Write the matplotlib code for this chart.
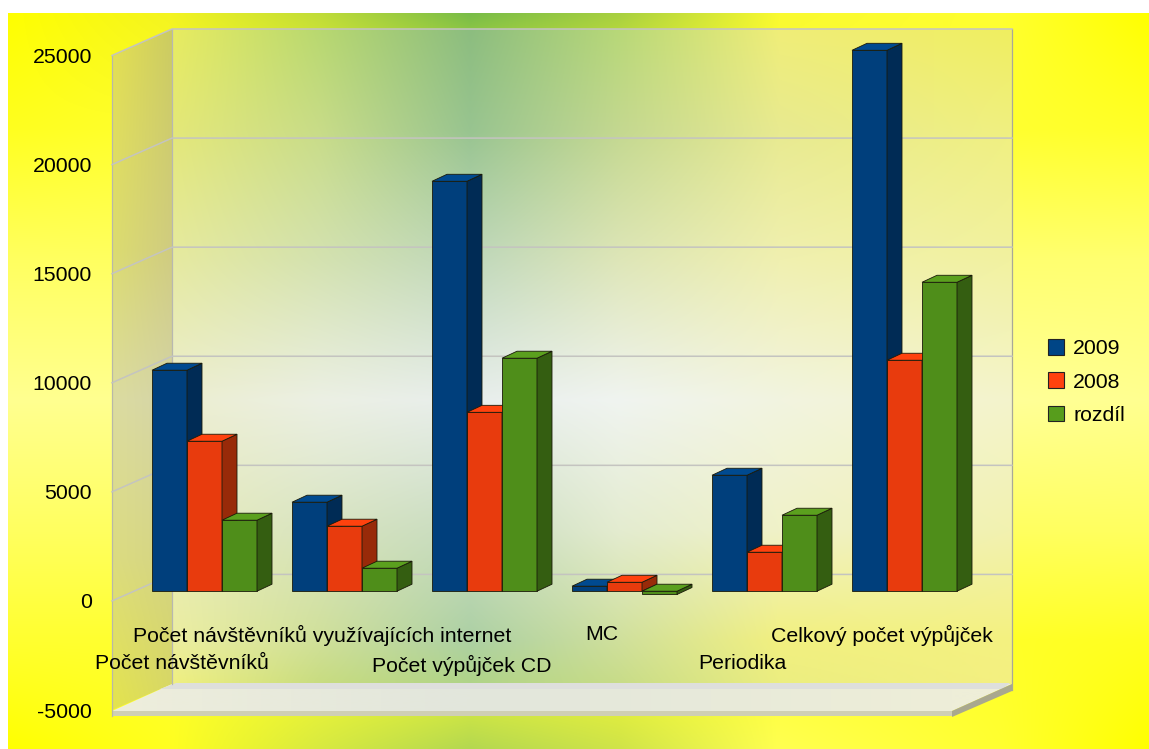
#3D style clustered bars, drawn by hand on a 2D axes
import numpy as np
import matplotlib
matplotlib.use('Agg')
import matplotlib.pyplot as plt
from matplotlib.colors import to_rgb
from matplotlib.patches import Patch, Polygon

plt.rcParams['font.family'] = ['Liberation Sans', 'DejaVu Sans']

categories = ['Počet návštěvníků', 'Počet návštěvníků využívajících internet',
              'Počet výpůjček CD', 'MC', 'Periodika', 'Celkový počet výpůjček']
series_names = ['2009', '2008', 'rozdíl']
v2009 = [10130, 4080, 18790, 230, 5316, 24794]
v2008 = [6875, 2980, 8200, 410, 1787, 10587]
rozdil = [3255, 1055, 10680, -150, 3483, 14161]
yticks = [-5000, 0, 5000, 10000, 15000, 20000, 25000]

front = ['#003f7c', '#e83b0d', '#4f8e1a']
top = ['#004a90', '#ff420e', '#5ba01e']
side = ['#002b55', '#982a09', '#345e11']
legend_cols = ['#004586', '#ff420e', '#579d1c']

W, H = 1149, 749
fig = plt.figure(figsize=(W/100, H/100), dpi=100, facecolor='white')

bg = fig.add_axes([0, 0, 1, 1])
bg.axis('off')

#smooth fill from a coarse table of colours
def grad(xs, ys, rows, clip=None):
	x1, y1 = min(xs), max(ys)
	px = np.arange(xs[0], xs[-1] + 1)
	py = np.arange(ys[0], ys[-1] + 1)
	tab = np.array([[to_rgb('#' + c) for c in r] for r in rows])
	tmp = np.zeros((len(ys), len(px), 3))
	out = np.zeros((len(py), len(px), 3))
	for c in range(3):
		for i in range(len(ys)):
			tmp[i, :, c] = np.interp(px, xs, tab[i, :, c])
		for k in range(len(px)):
			out[:, k, c] = np.interp(py, ys, tmp[:, k, c])
	im = bg.imshow(out, extent=(xs[0], xs[-1], ys[-1], ys[0]), aspect='auto', interpolation='bilinear')
	if clip is not None:
		im.set_clip_path(Polygon(clip, transform=bg.transData))

#page background
grad([8, 170, 320, 470, 620, 780, 1000, 1149], [13, 130, 260, 400, 530, 640, 749],
     [['ffff00', 'f4f420', 'c0dc38', '78bc48', 'a8d040', 'fafa30', 'ffff30', 'ffff00'],
      ['ffff20', 'ffff30', 'ffff30', 'ffff30', 'ffff30', 'ffff30', 'ffff30', 'ffff28'],
      ['ffff60', 'ffff60', 'ffff60', 'ffff60', 'ffff60', 'ffff60', 'ffff70', 'ffff70'],
      ['ffff90', 'ffff90', 'ffff90', 'ffff90', 'ffff90', 'ffff90', 'ffff98', 'ffff90'],
      ['ffff60', 'ffff60', 'ffff60', 'ffff60', 'ffff60', 'ffff60', 'ffff60', 'ffff60'],
      ['ffff30', 'ffff30', 'ffff30', 'ffff30', 'ffff30', 'ffff30', 'ffff28', 'ffff20'],
      ['ffff00', 'ffff20', 'd8ea40', 'b4d850', 'd0e448', 'ffff50', 'ffff30', 'ffff00']])
#back wall
grad([172, 320, 470, 620, 780, 1012], [29, 130, 260, 400, 530, 640, 684],
     [['e8ec60', 'b8d870', '8cbd7f', 'b8d878', 'f0ee78', 'f0ee60'],
      ['e4e878', 'c8dc88', '98c490', 'c4d890', 'e8ea90', 'f0f080'],
      ['e6eaa0', 'd4e2b0', 'c0d8bc', 'dee6b8', 'f0f0b0', 'f2f2a0'],
      ['eceed0', 'ecf0e4', 'e8eeec', 'f0f4f0', 'f2f4e0', 'f4f4cc'],
      ['e8ecbc', 'd8e4c0', 'c8dcc0', 'e4ecd0', 'f0f2c8', 'f2f2b0'],
      ['eceea0', 'd0e09a', 'acd0a4', 'd0e09c', 'f2f080', 'f4f280'],
      ['f0f080', 'c8dc80', 'b0d488', 'c8dc88', 'ecee80', 'f4f080']])
#left wall
grad([112, 172], [29, 250, 400, 560, 710],
     [['e4e050', 'cccc60'], ['dcdc70', 'd0cc80'], ['dcdca0', 'd4d4a8'], ['dcdc80', 'd4d484'], ['e4e44c', 'd8d860']],
     clip=[(112, 56), (172, 29), (172, 684), (112, 710)])
#floor plate
grad([112, 470, 952, 1012], [684, 716],
     [['eeeedc', 'e2e6dc', 'eeeed8', 'eeeed8'], ['eeeedc', 'e2e6dc', 'eeeed8', 'eeeed8']],
     clip=[(112, 711), (172, 684), (1012, 684), (952, 711)])
bg.fill([176, 1010, 1002, 160], [683, 683, 689, 689], fc='#dedfdc', ec='none')
bg.fill([112, 952, 952, 112], [711, 711, 716, 716], fc='#cfcfb4', ec='none')
bg.fill([952, 1012, 1012, 952], [711, 684, 691, 717], fc='#a9a88e', ec='none')
bg.plot([172, 172], [29, 684], color='#b8b8b0', lw=0.9)
bg.plot([1012, 1012], [29, 690], color='#a8a898', lw=0.9)
bg.plot([112, 112], [56, 716], color='#b8b8a8', lw=0.9)
bg.set_xlim(0, W)
bg.set_ylim(H, 0)

#main axes is the front plane of the box
ax = fig.add_axes([112/W, 1 - 710/H, 840/W, 654.5/H])
ax.patch.set_alpha(0)
ax.set_xlim(0, 6)
ax.set_ylim(-5000, 25000)
for s in ax.spines.values():
	s.set_visible(False)

#depth offsets in data units
xpx = 6/840.0
ypx = 30000/654.5
wall_dx, wall_dy = 60*xpx, 26.5*ypx
bar_dx, bar_dy = 40*xpx, 9.7*ypx
depth_dx, depth_dy = 15*xpx, 7*ypx

#gridlines
for v in yticks[1:]:
	ax.plot([0, wall_dx, 6 + wall_dx], [v, v + wall_dy, v + wall_dy],
	        color='#c4c4c0', lw=1.1, clip_on=False, zorder=1)

#bars
data = [v2009, v2008, rozdil]
width = 0.25
x = np.arange(6)
edge = '#1a1a0a'
for j in range(3):
	vals = np.array(data[j], dtype=float)
	pos = x + width*(j + 0.5) + bar_dx
	ax.bar(pos, vals, width, bottom=bar_dy, color=front[j], edgecolor=edge, linewidth=0.6,
	       clip_on=False, zorder=3 + j)
	for p, v in zip(pos, vals):
		hi = max(v, 0) + bar_dy
		lo = min(v, 0) + bar_dy
		r = p + width/2
		l = p - width/2
		ax.fill([r, r + depth_dx, r + depth_dx, r], [lo, lo + depth_dy, hi + depth_dy, hi],
		        fc=side[j], ec=edge, lw=0.6, clip_on=False, zorder=3 + j)
		ax.fill([l, r, r + depth_dx, l + depth_dx], [hi, hi, hi + depth_dy, hi + depth_dy],
		        fc=top[j], ec=edge, lw=0.6, clip_on=False, zorder=3 + j)

#ticks
ax.set_yticks(yticks)
ax.set_yticklabels([str(v) for v in yticks])
ax.tick_params(axis='y', length=0, pad=14.5, labelsize=15.3)
ax.set_xticks(x + 0.5)
ax.set_xticklabels(categories)
ax.tick_params(axis='x', length=0, labelsize=15.3)
pads = [-40 if i in (1, 3, 5) else -61 for i in range(6)]
pads = [-40 if i in (0, 2, 4) else -61 for i in range(6)]
for tick, p in zip(ax.xaxis.get_major_ticks(), pads):
	tick.set_pad(p)
	tick.label1.set_zorder(10)

handles = [Patch(facecolor=c, edgecolor='#222222', linewidth=0.8) for c in legend_cols]
fig.legend(handles, series_names, loc='upper left', bbox_to_anchor=(1048/W, 1 - 339/H),
           frameon=False, fontsize=15.3, borderpad=0, borderaxespad=0, labelspacing=0.66,
           handlelength=0.76, handleheight=0.76, handletextpad=0.42)

fig.savefig('out.png', dpi=100)
